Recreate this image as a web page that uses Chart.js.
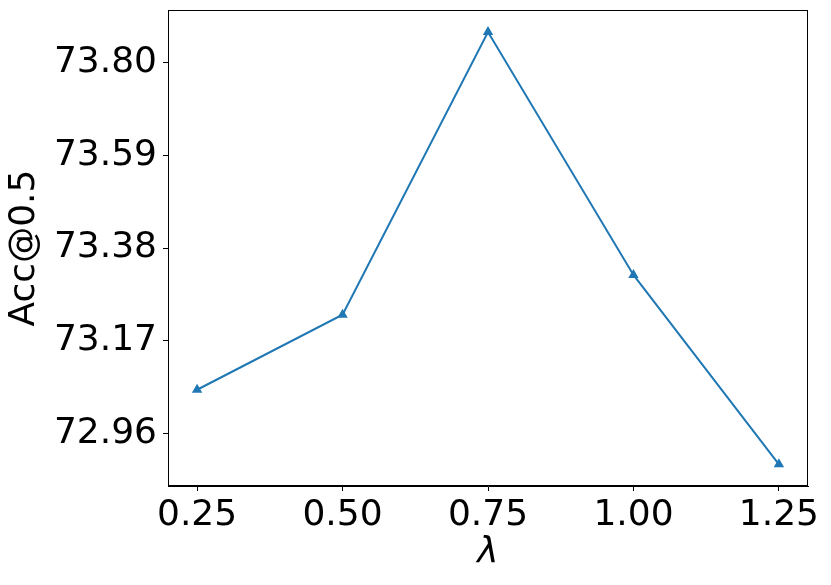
<!DOCTYPE html>
<html>
<head>
<meta charset="utf-8">
<script src="https://cdn.jsdelivr.net/npm/chart.js@4/dist/chart.umd.min.js"></script>
<style>
  html, body { margin: 0; padding: 0; background: #fff; }
  canvas { display: block; }
</style>
</head>
<body>
<canvas id="chart" width="831" height="585"></canvas>
<script>
var lambdas = [0.25, 0.5, 0.75, 1.0, 1.25];
var acc = [73.059, 73.229, 73.869, 73.319, 72.890];
var xTicks = [0.25, 0.5, 0.75, 1.0, 1.25];
var yTicks = [72.96, 73.17, 73.38, 73.59, 73.80];

var points = [];
for (var i = 0; i < lambdas.length; i++) {
  points.push({x: lambdas[i], y: acc[i]});
}

// box round the plot area, like matplotlib's spines
var frame = {
  id: 'frame',
  afterDatasetsDraw: function(chart) {
    var a = chart.chartArea, ctx = chart.ctx;
    ctx.save();
    ctx.strokeStyle = '#000';
    ctx.lineWidth = 1;
    ctx.strokeRect(Math.round(a.left) + 0.5, Math.round(a.top) + 0.5,
      Math.round(a.right - a.left) - 1, Math.round(a.bottom - a.top) - 1);
    ctx.restore();
  }
};

var font = {family: 'DejaVu Sans', size: 36};

var config = {
  type: 'line',
  data: {
    datasets: [{
      data: points,
      borderColor: '#1f77b4',
      backgroundColor: '#1f77b4',
      borderWidth: 2,
      pointStyle: 'triangle',
      pointRadius: 6,
      pointBorderWidth: 0,
      tension: 0,
      fill: false
    }]
  },
  options: {
    responsive: false,
    animation: false,
    layout: {padding: {top: 10, right: 23, left: 0, bottom: 0}},
    plugins: {legend: {display: false}, tooltip: {enabled: false}},
    scales: {
      x: {
        type: 'linear',
        min: 0.2,
        max: 1.3,
        afterBuildTicks: function(scale) {
          scale.ticks = xTicks.map(function(v) { return {value: v}; });
        },
        afterFit: function(scale) {
          scale.height = 99;
          scale.paddingLeft = 0;
          scale.paddingRight = 0;
        },
        ticks: {
          color: '#000',
          font: font,
          padding: 3,
          maxRotation: 0,
          callback: function(v) { return Number(v).toFixed(2); }
        },
        grid: {drawOnChartArea: false, drawTicks: true, tickLength: 5, tickColor: '#000'},
        border: {display: true, color: '#000', width: 1},
        title: {
          display: true,
          text: 'λ',
          color: '#000',
          font: {family: 'DejaVu Sans', size: 36, style: 'italic'},
          padding: {top: 0, bottom: 11}
        }
      },
      y: {
        type: 'linear',
        min: 72.841,
        max: 73.919,
        afterBuildTicks: function(scale) {
          scale.ticks = yTicks.map(function(v) { return {value: v}; });
        },
        afterFit: function(scale) {
          scale.width = 168;
          scale.paddingTop = 0;
          scale.paddingBottom = 0;
        },
        ticks: {
          color: '#000',
          font: font,
          padding: 6,
          callback: function(v) { return Number(v).toFixed(2); }
        },
        grid: {drawOnChartArea: false, drawTicks: true, tickLength: 5, tickColor: '#000'},
        border: {display: true, color: '#000', width: 1},
        title: {
          display: true,
          text: 'Acc@0.5',
          color: '#000',
          font: font,
          padding: {top: 3, bottom: 0}
        }
      }
    }
  },
  plugins: [frame]
};

var ctx = document.getElementById('chart');
var myChart = new Chart(ctx, config);
</script>
</body>
</html>
